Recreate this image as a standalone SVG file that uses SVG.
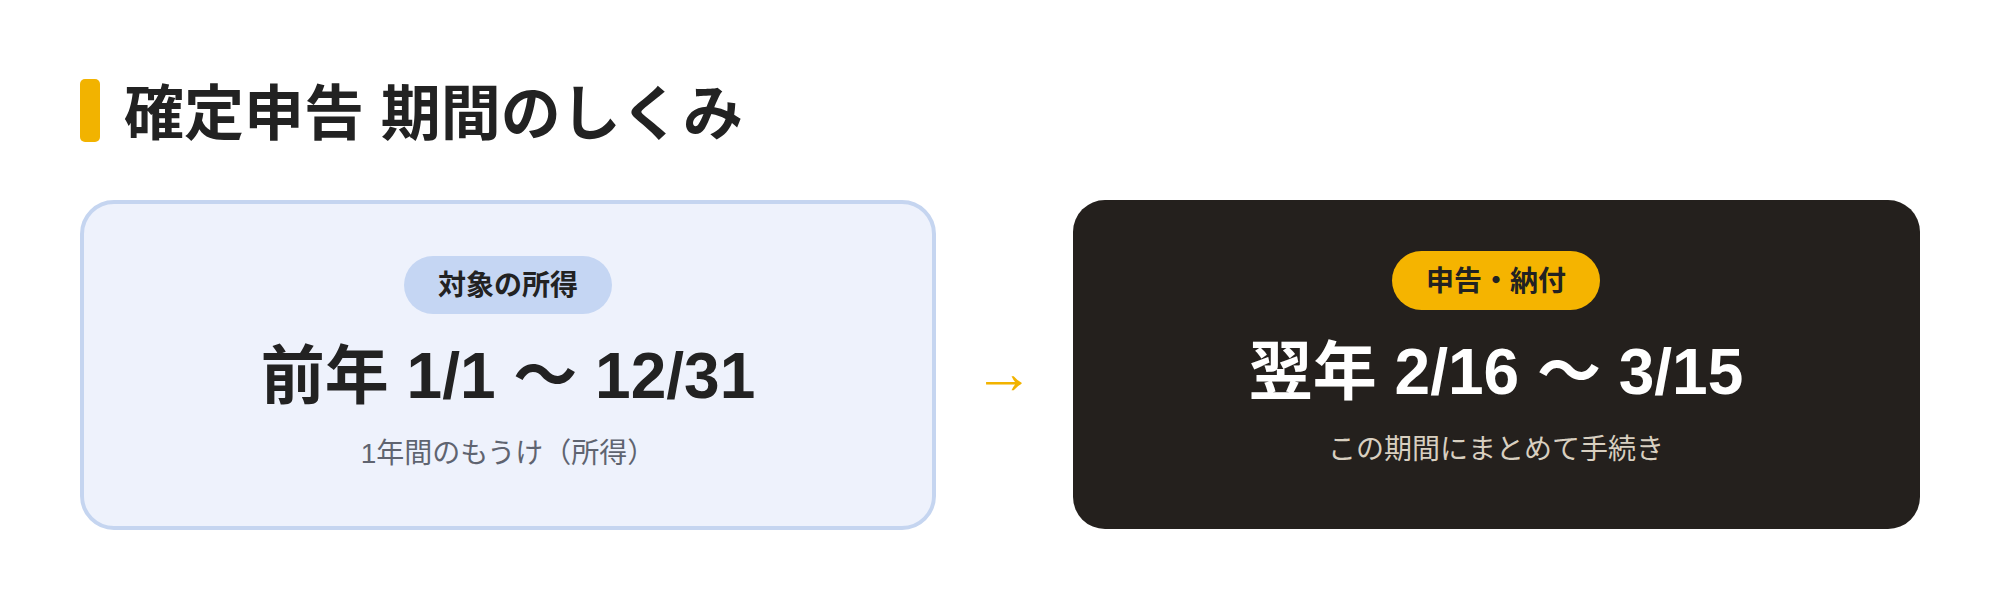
<svg xmlns="http://www.w3.org/2000/svg" width="2000" height="598" viewBox="0 0 2000 598">
<style>
text{font-family:"Liberation Sans","Noto Sans CJK JP",sans-serif;text-anchor:middle}
.t{font-weight:bold;font-size:60px;fill:#222;text-anchor:start}
.pill{font-weight:bold;font-size:28px;fill:#222}
.main{font-weight:bold;font-size:64px}
.sub{font-size:28px}
</style>
<rect width="2000" height="598" fill="#fff"/>
<g id="title">
<rect x="80" y="79" width="20" height="63" rx="5" fill="#f2b300"/>
<text class="t" x="124" y="135">確定申告 期間のしくみ</text>
</g>
<g id="prev">
<rect x="82" y="202" width="852" height="326" rx="32" fill="#eef2fc" stroke="#c5d5f0" stroke-width="4"/>
<rect x="404" y="256" width="208" height="58" rx="29" fill="#c5d6f3"/>
<text class="pill" x="508" y="295">対象の所得</text>
<text class="main" x="508" y="398" fill="#222">前年 1/1 〜 12/31</text>
<text class="sub" x="508" y="463" fill="#5f6470">1年間のもうけ（所得）</text>
</g>
<g id="connectors">
<text x="1004" y="393" font-size="60" fill="#f2b300">→</text>
</g>
<g id="next">
<rect x="1073" y="200" width="847" height="329" rx="32" fill="#24201d"/>
<rect x="1392" y="251" width="208" height="59" rx="29.5" fill="#f5b400"/>
<text class="pill" x="1496" y="291">申告・納付</text>
<text class="main" x="1496" y="394" fill="#fff">翌年 2/16 〜 3/15</text>
<text class="sub" x="1496" y="459" fill="#d8cfc0">この期間にまとめて手続き</text>
</g>
</svg>
